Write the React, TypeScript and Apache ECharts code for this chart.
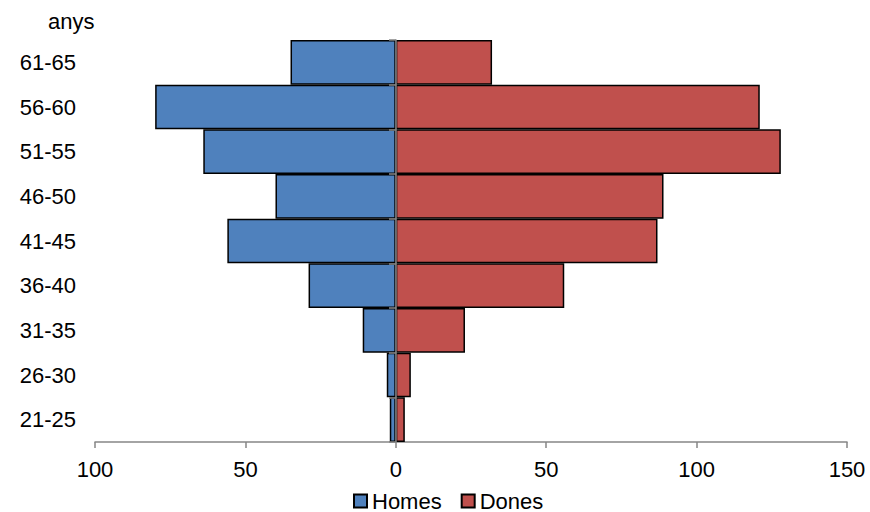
import React, { useEffect, useRef } from "react";
import * as echarts from "echarts";

const categories = ["21-25", "26-30", "31-35", "36-40", "41-45", "46-50", "51-55", "56-60", "61-65"];
const homes = [2, 3, 11, 29, 56, 40, 64, 80, 35];
const dones = [3, 5, 23, 56, 87, 89, 128, 121, 32];
const seriesNames = ["Homes", "Dones"];
const axisTitle = "anys";

export default function App() {
  const ref = useRef<HTMLDivElement>(null);
  useEffect(() => {
    if (!ref.current) return;
    const chart = echarts.init(ref.current, undefined, { renderer: "svg" });
    const font = "Liberation Sans, Arial, sans-serif";
    chart.setOption({
      animation: false,
      textStyle: { fontFamily: font },
      title: {
        text: axisTitle,
        left: 48,
        top: 10,
        padding: 0,
        textStyle: { fontSize: 22, fontWeight: "normal", color: "#000", fontFamily: font },
      },
      legend: {
        data: seriesNames,
        top: 490,
        left: 353,
        padding: 0,
        itemWidth: 13,
        itemHeight: 13,
        itemGap: 19,
        icon: "rect",
        textStyle: { fontSize: 22, color: "#000", fontFamily: font },
      },
      grid: { left: 95, right: 23, top: 40, bottom: 70, containLabel: false },
      xAxis: {
        type: "value",
        min: -100,
        max: 150,
        interval: 50,
        axisLine: { show: true, onZero: false, lineStyle: { color: "#868686", width: 1.5 } },
        axisTick: { show: true, length: 6, lineStyle: { color: "#868686", width: 1.5 } },
        splitLine: { show: false },
        axisLabel: {
          formatter: (v: number) => String(Math.abs(v)),
          fontSize: 22,
          color: "#000",
          margin: 16,
          fontFamily: font,
        },
      },
      yAxis: [
        {
          type: "category",
          data: categories,
          position: "left",
          axisLine: { show: false, onZero: false },
          axisTick: { show: false },
          axisLabel: { fontSize: 22, color: "#000", margin: 19, fontFamily: font },
        },
        {
          type: "category",
          data: categories,
          position: "right",
          offset: -451,
          z: 10,
          axisLine: { show: true, onZero: false, lineStyle: { color: "#868686", width: 1.5 } },
          axisTick: { show: true, inside: true, length: 7, lineStyle: { color: "#868686", width: 1.5 } },
          axisLabel: { show: false },
        },
      ],
      series: [
        {
          name: seriesNames[0],
          type: "bar",
          yAxisIndex: 0,
          data: homes.map((v) => -v),
          barCategoryGap: 0,
          barGap: "-100%",
          itemStyle: { color: "#4F81BD", borderColor: "#000", borderWidth: 1.5 },
        },
        {
          name: seriesNames[1],
          type: "bar",
          yAxisIndex: 0,
          data: dones,
          barCategoryGap: 0,
          barGap: "-100%",
          itemStyle: { color: "#C0504D", borderColor: "#000", borderWidth: 1.5 },
        },
      ],
    });
    return () => chart.dispose();
  }, []);
  return <div ref={ref} style={{ width: 870, height: 512, position: "absolute", left: 0, top: 0 }} />;
}
